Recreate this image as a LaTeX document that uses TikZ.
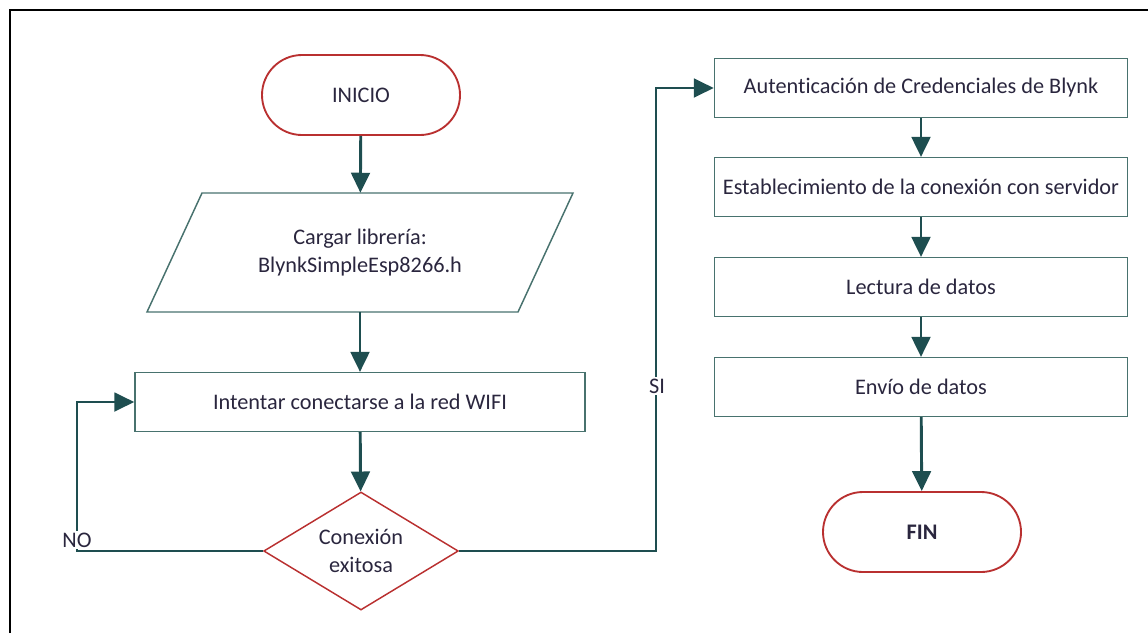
\documentclass[tikz,border=0pt]{standalone}
\usepackage{fontspec}
\setmainfont{Carlito}[Ligatures={NoCommon,NoRequired,NoContextual}]
\usepackage{tikz}
\usetikzlibrary{arrows.meta, shapes.geometric}

\definecolor{flecha}{RGB}{30,78,80}
\definecolor{borde}{RGB}{72,114,110}
\definecolor{rojo}{RGB}{185,48,48}
\definecolor{texto}{RGB}{42,38,62}

\begin{document}
\begin{tikzpicture}[x=0.75pt, y=-0.75pt,
  every node/.style={font=\fontsize{16.7}{21}\selectfont, text=texto},
  terminal/.style={draw=rojo, line width=1.4pt, rounded corners=30pt,
    minimum width=148.5pt, minimum height=60pt},
  proceso/.style={draw=borde, line width=1.1pt, minimum height=44pt, align=center},
  entrada/.style={minimum width=150pt, minimum height=89.25pt, align=center},
  decision/.style={diamond, aspect=1.65, draw=rojo, line width=1.1pt, inner sep=0pt,
    minimum width=146pt, minimum height=88.5pt, align=center},
  etiqueta/.style={fill=white, inner sep=1pt},
  conector/.style={draw=flecha, line width=2.2pt, -{Triangle[length=15pt, width=14pt]}}]
\useasboundingbox (0,0) rectangle (1148,633);
% marco
\draw[line width=1.5pt] (10,633) -- (10,10) -- (1148,10);

% columna izquierda
\node[terminal] (inicio) at (361,95) {INICIO};
\node[entrada] (cargar) at (360,252.5) {Cargar librería:\\BlynkSimpleEsp8266.h};
\draw[borde, line width=1.1pt] (cargar.center) ++(-158,-59.5) -- ++(371,0) -- ++(-55,119) -- ++(-371,0) -- cycle;
\node[proceso, minimum width=337.5pt] (intento) at (360,402) {Intentar conectarse a la red WIFI};
\node[decision] (conexion) at (361,551) {Conexión\\exitosa};

% columna derecha
\node[proceso, minimum width=309.75pt] (auten) at (921,88) {Autenticación de Credenciales de Blynk};
\node[proceso, minimum width=309.75pt] (estab) at (921,187) {Establecimiento de la conexión con servidor};
\node[proceso, minimum width=309.75pt] (lectura) at (921,287) {Lectura de datos};
\node[proceso, minimum width=309.75pt] (envio) at (921,387) {Envío de datos};
\node[terminal, font=\fontsize{16.7}{21}\selectfont\bfseries] (fin) at (922,532) {FIN};

\coordinate (esqNo) at (77,551);
\coordinate (esqSi) at (656,551);

% flechas
\draw[conector] (inicio) -- (cargar);
\draw[conector] (cargar) -- (intento);
\draw[conector] (intento) -- (conexion);
\draw[conector] (conexion.west) -- (esqNo) |- (intento.west);
\draw[conector] (conexion.east) -- (esqSi) |- (auten.west);
\draw[conector] (auten) -- (estab);
\draw[conector] (estab) -- (lectura);
\draw[conector] (lectura) -- (envio);
\draw[conector] (envio) -- (fin);

\node[etiqueta] (no) at (77,540) {NO};
\node[etiqueta] (si) at (657,386) {SI};
\end{tikzpicture}
\end{document}
